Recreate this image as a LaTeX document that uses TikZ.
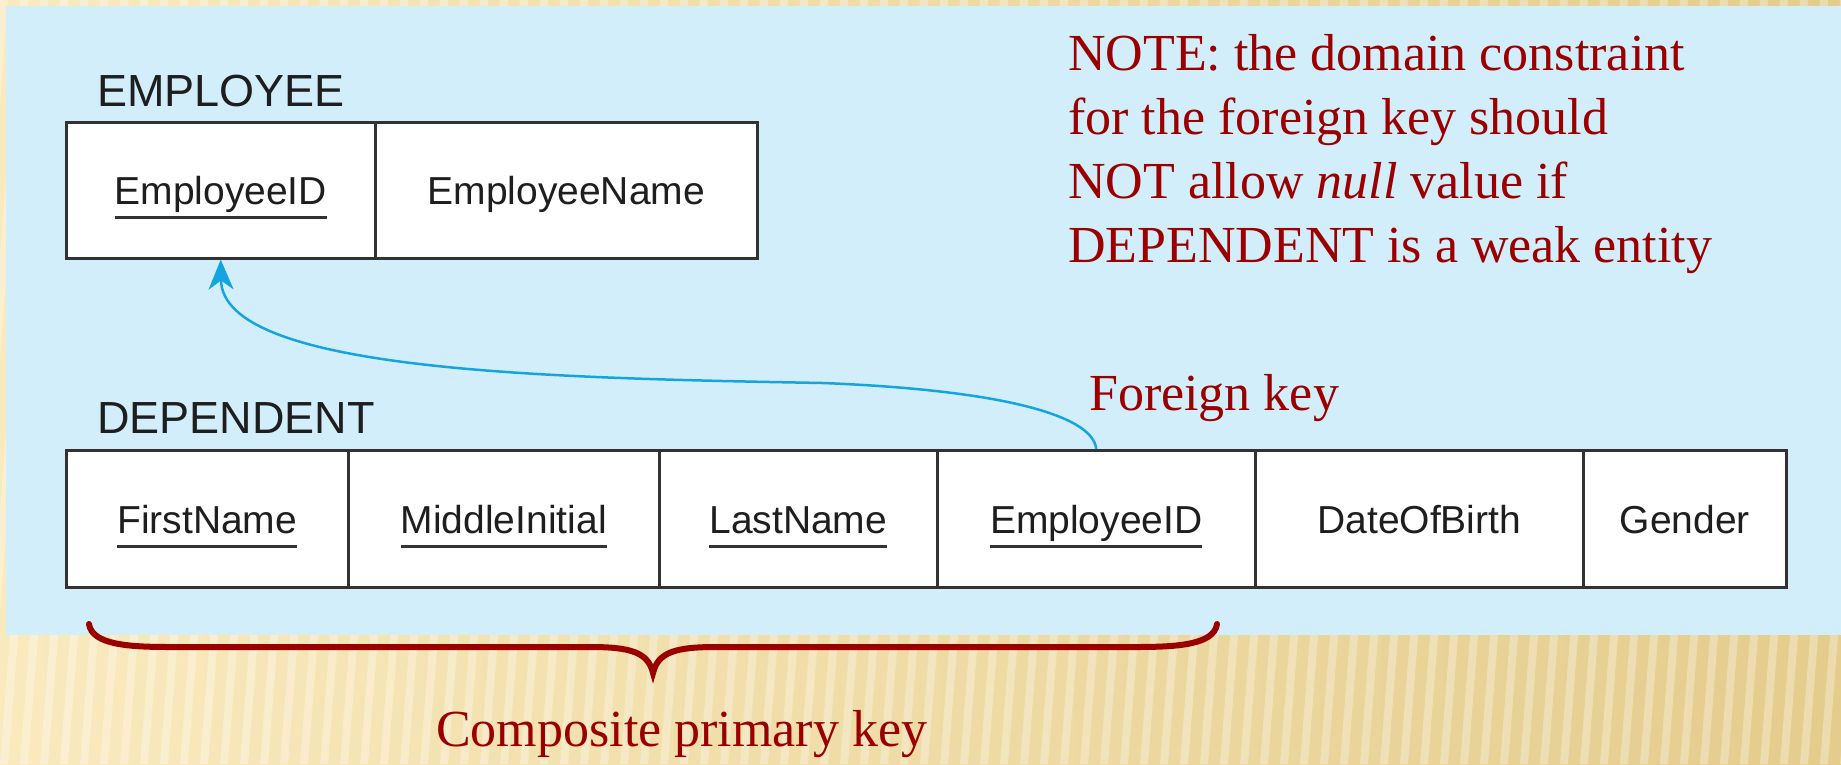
\documentclass[tikz,border=0pt]{standalone}
\usepackage{fontspec}
\setmainfont{Liberation Serif}
\newfontfamily\sansf{Liberation Sans}
\usetikzlibrary{arrows.meta}
\definecolor{panelblue}{RGB}{211,238,251}
\definecolor{darkred}{RGB}{155,0,0}
\definecolor{fkblue}{RGB}{20,165,225}
\definecolor{tablegray}{RGB}{50,50,50}
\definecolor{inkgray}{RGB}{30,30,30}
\definecolor{beigeL}{RGB}{249,234,190}
\definecolor{beigeD}{RGB}{228,204,140}
\newcommand\pkattr[1]{\setbox0\hbox{#1}\rlap{\color{tablegray}\vrule width\wd0 height -11.5pt depth 14.5pt}\box0}
\tikzset{
  cell/.style={draw=tablegray, line width=2.5pt, fill=white, anchor=north west,
    inner sep=0pt, text height=29pt, text depth=0pt, text=inkgray,
    font=\sansf\fontsize{39}{47}\selectfont},
  tablelabel/.style={anchor=base west, inner sep=0pt, text=inkgray,
    font=\sansf\fontsize{45}{54}\selectfont},
  redtext/.style={anchor=base west, inner sep=0pt, text=darkred,
    font=\fontsize{52}{64}\selectfont},
  fklink/.style={draw=fkblue, line width=2.5pt,
    -{Stealth[length=30pt,width=25pt,inset=9pt]}},
  bracepath/.style={draw=darkred, line width=6pt, line cap=round},
}
\begin{document}
\begin{tikzpicture}[x=1pt,y=-1pt]
\useasboundingbox (0,0) rectangle (1841,764);
% background
\shade[left color=beigeL, right color=beigeD] (0,0) rectangle (1841,764);
\foreach \x in {-20,0,...,1900}
  \fill[white, opacity=0.30] (\x,0) -- (\x+8,0) -- (\x-52,764) -- (\x-60,764) -- cycle;
\fill[panelblue] (6,6) rectangle (1841,635);

% EMPLOYEE relation
\node[tablelabel] (emplabel) at (97,106) {EMPLOYEE};
\node[cell, minimum width=309pt, minimum height=136pt] (e1) at (65,121) {\pkattr{EmployeeID}};
\node[cell, minimum width=382pt, minimum height=136pt] (e2) at (374,121) {EmployeeName};

% DEPENDENT relation
\node[tablelabel] (deplabel) at (97,433) {DEPENDENT};
\node[cell, minimum width=282pt, minimum height=137pt] (d1) at (65,449) {\pkattr{FirstName}};
\node[cell, minimum width=311pt, minimum height=137pt] (d2) at (347,449) {\pkattr{MiddleInitial}};
\node[cell, minimum width=278pt, minimum height=137pt] (d3) at (658,449) {\pkattr{LastName}};
\node[cell, minimum width=318pt, minimum height=137pt] (d4) at (936,449) {\pkattr{EmployeeID}};
\node[cell, minimum width=328pt, minimum height=137pt] (d5) at (1254,449) {DateOfBirth};
\node[cell, minimum width=203pt, minimum height=137pt] (d6) at (1582,449) {Gender};

% foreign key link
\draw[fklink] (d4.north) .. controls (1093,415) and (1000,390) .. (823,383)
  .. controls (550,378) and (222,372) .. (e1.south);

% annotations
\node[redtext] (fklabel) at (1089,410) {Foreign key};
\node[redtext, align=left] (note) at (1068,262)
  {NOTE: the domain constraint\\for the foreign key should\\NOT allow \textit{null} value if\\DEPENDENT is a weak entity};

% brace
\draw[bracepath] (89,624) .. controls (92,645) and (130,647) .. (170,647) -- (590,647)
  .. controls (630,647) and (648,652) .. (653,673)
  .. controls (658,652) and (676,647) .. (716,647) -- (1136,647)
  .. controls (1176,647) and (1214,645) .. (1217,624);
\node[redtext] (pklabel) at (436,746) {Composite primary key};
\end{tikzpicture}
\end{document}
